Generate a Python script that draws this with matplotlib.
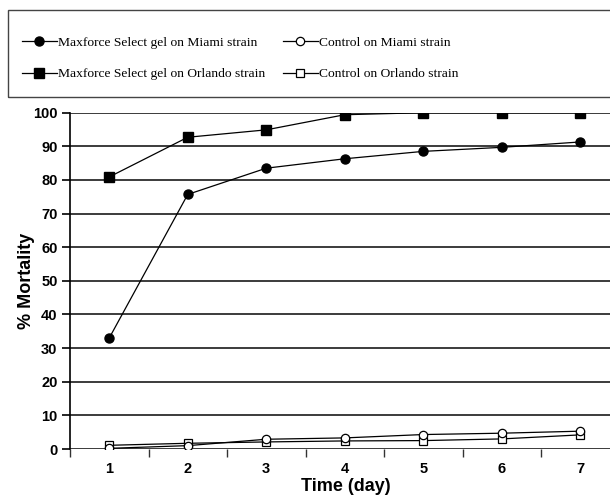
import matplotlib
matplotlib.use("Agg")
import matplotlib.pyplot as plt
from matplotlib.patches import Rectangle

days = [1, 2, 3, 4, 5, 6, 7]
gel_miami = [33, 75.7, 83.5, 86.3, 88.5, 89.7, 91.3]
gel_orlando = [80.9, 92.7, 94.9, 99.4, 100, 100, 100]
ctrl_miami = [0.2, 1.0, 2.9, 3.3, 4.3, 4.7, 5.3]
ctrl_orlando = [1.1, 1.7, 2.1, 2.4, 2.5, 3.0, 4.2]

labels = ["Maxforce Select gel on Miami strain", "Maxforce Select gel on Orlando strain",
          "Control on Miami strain", "Control on Orlando strain"]

fig = plt.figure(figsize=(6.1, 4.98), dpi=100)
ax = fig.add_axes([70 / 610, 1 - 449 / 498, 1 - 70 / 610, (449 - 112.7) / 498])

lw = 0.9
l1, = ax.plot(days, gel_miami, color="black", lw=lw, marker="o", ms=6.5, mfc="black", zorder=4)
l3, = ax.plot(days, gel_orlando, color="black", lw=lw, marker="s", ms=6.5, mfc="black", zorder=4)
l2, = ax.plot(days, ctrl_miami, color="black", lw=lw, marker="o", ms=6, mfc="white", mew=0.9, zorder=4)
l4, = ax.plot(days, ctrl_orlando, color="black", lw=lw, marker="s", ms=6, mfc="white", mew=0.9, zorder=3)

ax.set_xlim(0.5, 0.5 + 540 / 78.5)
ax.set_ylim(0, 100)
ax.set_yticks(range(0, 101, 10))
ax.yaxis.grid(True, color="#1a1a1a", lw=1.2)
ax.set_axisbelow(True)

ax.set_xticks(days)
ax.set_xticks([d + 0.5 for d in days[:-1]] + [0.5], minor=True)
ax.tick_params(axis="x", which="major", length=0, pad=9)
ax.tick_params(axis="x", which="minor", length=6, width=1, direction="out", color="#333333")
ax.tick_params(axis="y", length=6, width=1.2, direction="out", pad=3)

for s in ["top", "right", "bottom"]:
    ax.spines[s].set_visible(False)
ax.spines["left"].set_linewidth(1.2)

for t in ax.get_xticklabels() + ax.get_yticklabels():
    t.set_fontfamily("Liberation Sans")
    t.set_fontweight("bold")
    t.set_fontsize(10.5)

ax.set_xlabel("Time (day)", fontfamily="Liberation Sans", fontweight="bold", fontsize=13)
ax.xaxis.set_label_coords(276 / 540, -29 / 336.3)
ax.set_ylabel("% Mortality", fontfamily="Liberation Sans", fontweight="bold", fontsize=13)
ax.yaxis.set_label_coords(-35 / 540, 0.5)

fig.patches.append(Rectangle((8 / 610, 1 - 97 / 498), 1.0, 87 / 498, transform=fig.transFigure,
                             fill=False, edgecolor="#444444", lw=1.0))

fig.legend([l1, l3, l2, l4], labels, loc="center left", ncol=2,
           bbox_to_anchor=(15 / 610, 1 - 58.5 / 498), frameon=False, borderpad=0,
           prop={"family": "Liberation Serif", "size": 9.7},
           handlelength=2.6, handletextpad=0.1, columnspacing=1.3, labelspacing=1.4)

fig.savefig("out.png", dpi=100)
